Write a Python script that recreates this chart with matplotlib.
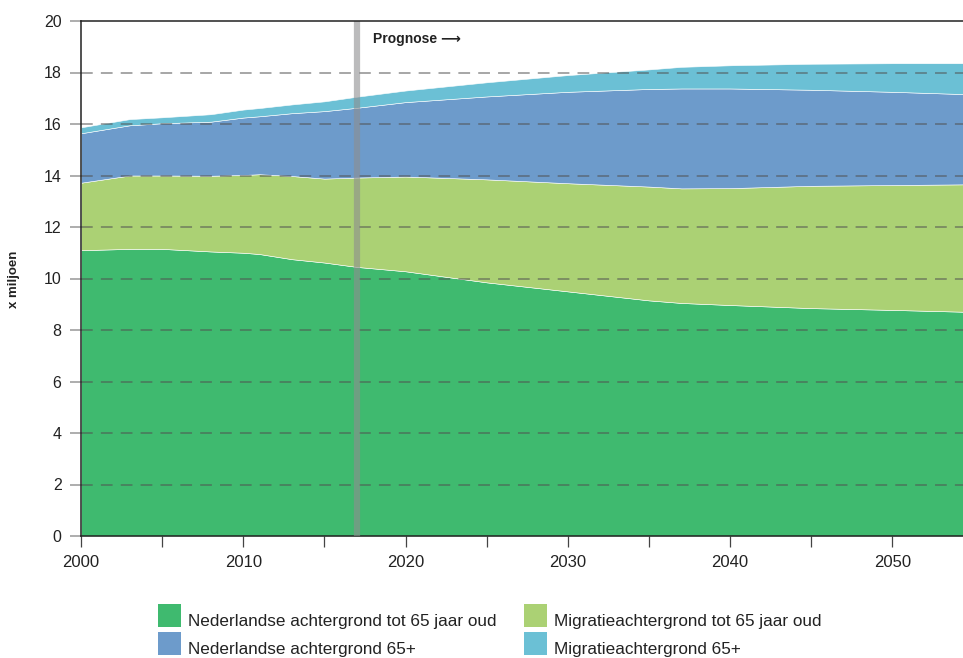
import numpy as np
import matplotlib
matplotlib.use('Agg')
import matplotlib.pyplot as plt
from matplotlib.patches import Rectangle

# bevolking naar herkomst en leeftijd, x miljoen (gestapeld)
jaren = [2000, 2003, 2005, 2008, 2010, 2011, 2013, 2015, 2017, 2020,
         2025, 2030, 2035, 2037, 2040, 2045, 2050, 2055]
nl_tot65 = [11.10, 11.15, 11.15, 11.05, 11.00, 10.95, 10.75, 10.62, 10.45, 10.28,
            9.85, 9.50, 9.15, 9.05, 8.97, 8.85, 8.78, 8.70]
mig_tot65 = [2.62, 2.85, 2.85, 2.94, 3.02, 3.10, 3.23, 3.26, 3.47, 3.68,
             4.00, 4.20, 4.42, 4.45, 4.54, 4.75, 4.85, 4.96]
nl_65plus = [1.92, 1.95, 2.03, 2.10, 2.23, 2.25, 2.44, 2.62, 2.71, 2.89,
             3.22, 3.55, 3.79, 3.88, 3.87, 3.73, 3.62, 3.49]
mig_65plus = [0.23, 0.24, 0.23, 0.29, 0.31, 0.32, 0.34, 0.38, 0.43, 0.45,
              0.55, 0.65, 0.76, 0.84, 0.90, 1.01, 1.11, 1.21]

labels = ['Nederlandse achtergrond tot 65 jaar oud',
          'Migratieachtergrond tot 65 jaar oud',
          'Nederlandse achtergrond 65+',
          'Migratieachtergrond 65+']
colors = ['#3fba6f', '#abd174', '#6d9bcb', '#6bc0d5']
prognose_jaar = 2017

regular = ['Liberation Sans', 'DejaVu Sans']

fig = plt.figure(figsize=(9.63, 6.58), dpi=100)
ax = fig.add_axes([81/963, 1 - 536/658, 1 - 81/963, 515/658])

ax.stackplot(jaren, nl_tot65, mig_tot65, nl_65plus, mig_65plus,
             colors=colors, edgecolor='white', linewidth=0.4, zorder=1)

ax.set_xlim(2000, 2054.35)
ax.set_ylim(0, 20)
ax.set_yticks(np.arange(0, 21, 2))
ax.set_xticks(np.arange(2000, 2051, 10))
ax.set_xticks(np.arange(2005, 2055, 10), minor=True)

for y in range(2, 20, 2):
    ax.axhline(y, color='#505050', alpha=0.55, lw=1.3, dashes=(6.5, 4.5), zorder=2)

ax.axvline(prognose_jaar, color='#8e8e90', alpha=0.6, lw=4.5, zorder=3)
ax.text(2018.0, 19.3, 'Prognose \u27f6', fontsize=10, fontweight='bold',
        family=regular, color='#222222', va='center', ha='left')

for s in ['left', 'top', 'bottom']:
    ax.spines[s].set_color('#222222')
    ax.spines[s].set_linewidth(1.1)
ax.spines['right'].set_visible(False)
ax.spines['top'].set_zorder(5)

ax.tick_params(axis='y', length=8, width=1.2, color='#a0a0a0', pad=6,
               labelsize=11.5, labelcolor='#222222')
ax.tick_params(axis='x', which='both', length=8, width=0.9, color='#444444',
               pad=6, labelsize=12, labelcolor='#222222')
for t in ax.get_xticklabels() + ax.get_yticklabels():
    t.set_family(regular)

fig.text(14/963, 1 - 279/658, 'x miljoen', rotation=90, fontsize=9.5,
         fontweight='bold', family=regular, color='#222222',
         ha='center', va='center')

# legenda in twee kolommen
pos = [(158, 604), (524, 604), (158, 632), (524, 632)]
for (px, py), lab, col in zip(pos, labels, colors):
    fig.add_artist(Rectangle((px/963, 1 - (py + 23)/658), 23/963, 23/658,
                             transform=fig.transFigure, color=col, lw=0))
    fig.text((px + 30)/963, 1 - (py + 22)/658, lab, fontsize=12.3,
             family=regular, color='#222222', ha='left', va='baseline')

fig.savefig('out.png', dpi=100)
